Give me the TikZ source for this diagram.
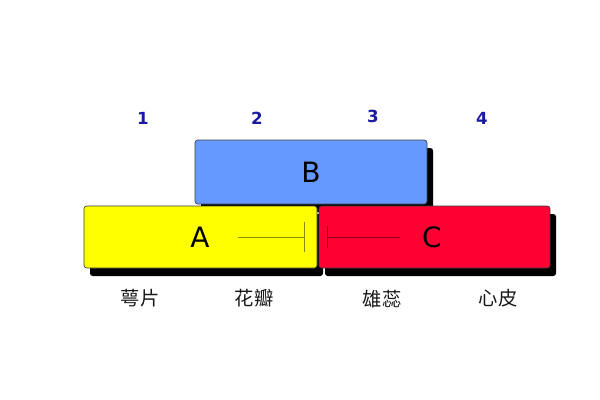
\documentclass[tikz,border=0pt]{standalone}
\usepackage{fontspec}
\setmainfont{DejaVu Sans}
\newfontfamily\cjk{Noto Sans CJK SC}
\usetikzlibrary{shadows,arrows.meta}
\definecolor{boxyellow}{HTML}{FFFF00}
\definecolor{boxred}{HTML}{FF0033}
\definecolor{boxblue}{HTML}{6699FF}
\definecolor{numblue}{HTML}{1A1AA0}
\definecolor{olivebar}{HTML}{8A8A10}
\definecolor{redbar}{HTML}{8A0020}
\begin{document}
\begin{tikzpicture}[x=0.75pt,y=-0.75pt,
  blockbox/.style={draw=black!75, line width=0.5pt, rounded corners=2pt, inner sep=0pt,
    font=\fontsize{21}{24}\selectfont,
    drop shadow={shadow xshift=4.5pt, shadow yshift=-6pt, opacity=1, fill=black}},
  numlabel/.style={text=numblue, font=\bfseries\fontsize{12.5}{14}\selectfont},
  cnlabel/.style={text=black!90, font=\cjk\fontsize{14.5}{16}\selectfont},
  barline/.style={line width=0.6pt}]
\fill[white] (0,0) rectangle (600,400);
\useasboundingbox (0,0) rectangle (600,400);
% numbers
\node[numlabel] (n1) at (143,118) {1};
\node[numlabel] (n2) at (257,118) {2};
\node[numlabel] (n3) at (373,116) {3};
\node[numlabel] (n4) at (482,118) {4};
% boxes
\node[blockbox, fill=boxblue, minimum width=174pt, minimum height=48pt] (B) at (311,172) {B};
\node[blockbox, fill=boxyellow, minimum width=174.75pt, minimum height=46.5pt] (A) at (200.5,237) {\hspace*{-1pt}A};
\node[blockbox, fill=boxred, minimum width=173.25pt, minimum height=46.5pt] (C) at (434.5,237) {\hspace*{-4pt}C};
% bars
\coordinate (a1) at (238,237);
\coordinate (a2) at (305,237);
\draw[barline, draw=olivebar, -{Bar[width=22.5pt]}] (a1) -- (a2);
\coordinate (c1) at (400,237);
\coordinate (c2) at (327,237);
\draw[barline, draw=redbar, -{Bar[width=17pt]}] (c1) -- (c2);
% Chinese labels
\node[cnlabel] (l1) at (140,298) {萼片};
\node[cnlabel] (l2) at (254,298) {花瓣};
\node[cnlabel] (l3) at (382,299) {雄蕊};
\node[cnlabel] (l4) at (498,298) {心皮};
\end{tikzpicture}
\end{document}
